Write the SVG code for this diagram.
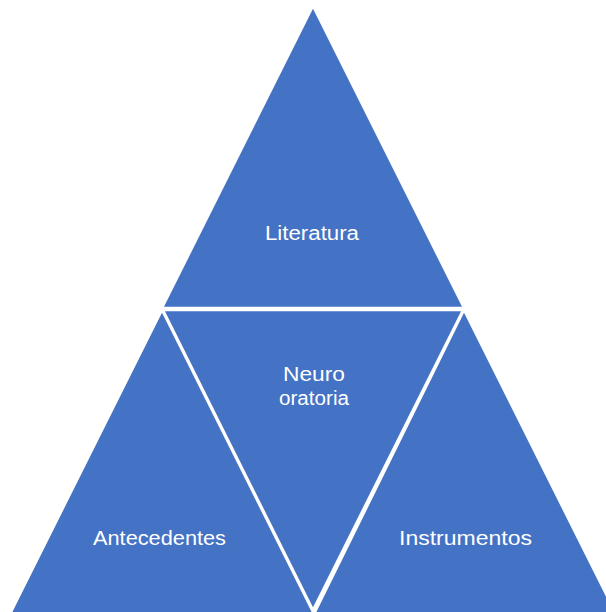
<svg xmlns="http://www.w3.org/2000/svg" width="606" height="612" viewBox="0 0 606 612">
<style>
.tri{fill:#4472C4;stroke:#FFFFFF;stroke-width:2.5;stroke-linejoin:miter}
.lbl{font-family:"Liberation Sans","Open Sans",Arial,sans-serif;font-size:20px;fill:#FFFFFF;text-anchor:middle}
</style>
<rect width="606" height="612" fill="#FFFFFF"/>
<g id="literatura">
<polygon class="tri" points="313,6 162,308 464,308"/>
<text class="lbl" x="312" y="240" textLength="94" lengthAdjust="spacingAndGlyphs">Literatura</text>
</g>
<g id="antecedentes">
<polygon class="tri" points="162,310 10,614 314,614"/>
<text class="lbl" x="159.5" y="545" textLength="133" lengthAdjust="spacingAndGlyphs">Antecedentes</text>
</g>
<g id="instrumentos">
<polygon class="tri" points="464,310 314,614 616,614"/>
<text class="lbl" x="465.5" y="545" textLength="133" lengthAdjust="spacingAndGlyphs">Instrumentos</text>
</g>
<g id="neuro-oratoria">
<polygon class="tri" points="163,310 463,310 313,610"/>
<text class="lbl" x="314" y="381" textLength="62" lengthAdjust="spacingAndGlyphs">Neuro</text>
<text class="lbl" x="314" y="405" textLength="70" lengthAdjust="spacingAndGlyphs">oratoria</text>
</g>
<g id="connectors"></g>
</svg>
